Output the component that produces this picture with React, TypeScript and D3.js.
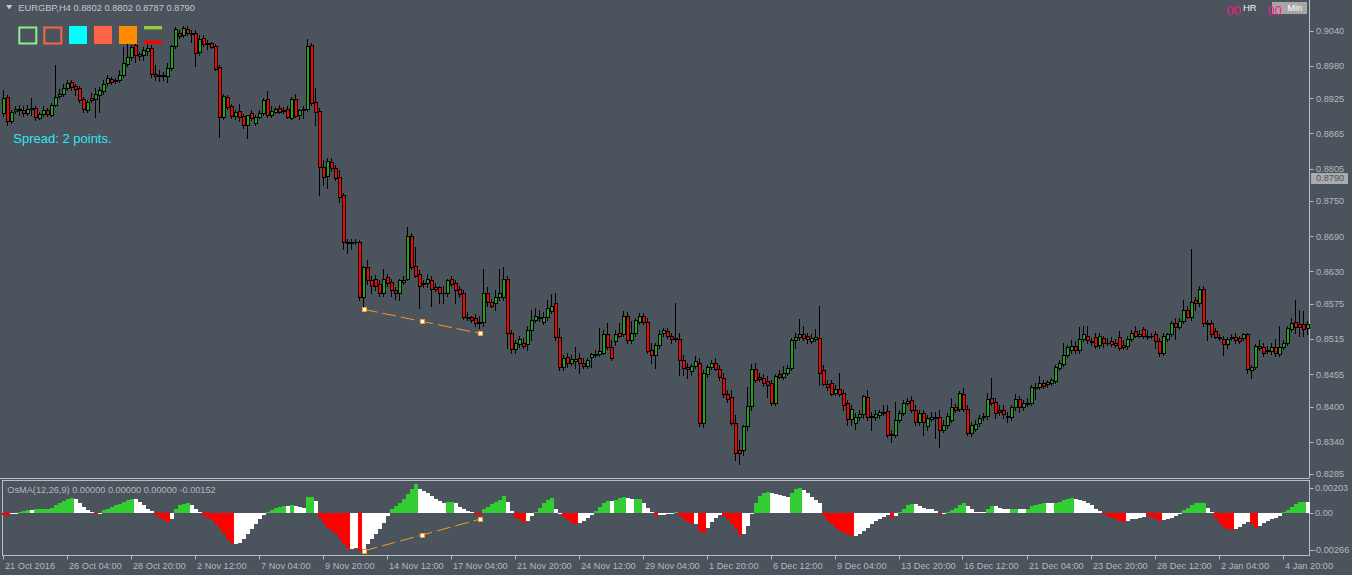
import React, { useEffect } from "react";
import * as d3 from "d3";

// ---------------- DATA (prices in pips, 1 pip = 0.0001) ----------------
const OPEN_PIPS = [
8900,8927,8886,8903,8906,8905,8900,8906,8908,8891,
8898,8905,8896,8913,8929,8932,8942,8952,8946,8942,
8923,8905,8925,8923,8930,8937,8951,8957,8954,8956,
8964,8983,8995,9015,9000,8998,9005,9010,8966,8963,
8964,8963,8976,9014,9036,9032,9043,9036,9036,9003,
9027,9019,9019,9014,8978,8893,8927,8912,8894,8903,
8894,8879,8900,8883,8893,8900,8923,8896,8901,8908,
8903,8906,8891,8923,8896,8905,8906,9015,8918,8903,
8808,8793,8816,8806,8791,8760,8681,8678,8681,8681,
8586,8637,8615,8617,8608,8593,8620,8612,8598,8593,
8612,8618,8691,8640,8625,8608,8610,8615,8603,8603,
8593,8593,8617,8610,8601,8593,8552,8552,8550,8544,
8544,8594,8578,8576,8587,8586,8618,8525,8498,8506,
8508,8506,8530,8547,8552,8544,8552,8562,8576,8518,
8467,8484,8474,8477,8482,8475,8469,8484,8489,8489,
8492,8523,8501,8511,8525,8523,8554,8513,8525,8544,
8554,8544,8496,8487,8504,8525,8528,8520,8516,8515,
8479,8467,8460,8469,8475,8372,8455,8467,8475,8464,
8448,8421,8416,8372,8326,8326,8367,8401,8464,8450,
8448,8443,8440,8406,8455,8450,8457,8465,8513,8518,
8523,8520,8511,8515,8516,8462,8438,8440,8423,8430,
8423,8406,8379,8372,8382,8387,8416,8384,8382,8385,
8391,8392,8353,8351,8377,8389,8406,8411,8394,8374,
8389,8367,8379,8382,8382,8360,8368,8377,8399,8396,
8421,8396,8355,8362,8372,8382,8384,8414,8408,8394,
8394,8384,8382,8399,8413,8399,8404,8406,8433,8433,
8440,8438,8440,8443,8465,8472,8487,8496,8503,8496,
8515,8521,8511,8518,8504,8516,8509,8511,8508,8518,
8504,8503,8515,8528,8521,8532,8521,8520,8523,8511,
8491,8515,8523,8542,8535,8545,8564,8552,8582,8576,
8601,8542,8542,8528,8518,8515,8506,8516,8518,8516,
8516,8523,8462,8467,8503,8501,8496,8494,8501,8489,
8501,8508,8532,8544,8540,8540,8533
];
const HIGH_PIPS = [
8939,8930,8905,8912,8913,8912,8913,8925,8912,8901,
8912,8908,8917,8981,8940,8949,8956,8956,8949,8946,
8927,8922,8934,8942,8944,8956,8964,8961,8959,8973,
9012,9032,9015,9024,9003,9012,9017,9015,8981,8973,
8969,8985,9015,9046,9041,9048,9048,9041,9041,9032,
9032,9024,9020,9017,8981,8932,8930,8915,8905,8915,
8898,8896,8905,8896,8905,8925,8937,8912,8910,8913,
8910,8912,8927,8932,8906,8912,9026,9019,8942,8908,
8820,8823,8823,8811,8803,8763,8686,8686,8686,8683,
8640,8649,8622,8624,8615,8635,8625,8618,8603,8618,
8623,8705,8696,8671,8632,8615,8625,8623,8610,8606,
8606,8618,8623,8615,8606,8598,8561,8555,8557,8555,
8635,8603,8584,8598,8635,8637,8623,8530,8513,8520,
8516,8538,8564,8567,8564,8561,8581,8591,8593,8533,
8487,8492,8487,8501,8491,8482,8482,8491,8496,8533,
8530,8542,8513,8530,8542,8562,8561,8545,8550,8559,
8559,8550,8509,8509,8530,8533,8533,8526,8576,8526,
8487,8475,8472,8486,8482,8462,8470,8479,8482,8470,
8458,8428,8428,8385,8343,8368,8433,8472,8475,8457,
8455,8452,8445,8455,8462,8469,8470,8516,8526,8549,
8538,8526,8523,8532,8571,8470,8445,8445,8436,8457,
8428,8411,8402,8389,8394,8419,8428,8391,8394,8394,
8402,8402,8360,8408,8394,8411,8414,8418,8402,8394,
8394,8385,8391,8391,8394,8377,8389,8414,8404,8426,
8431,8402,8374,8377,8385,8389,8423,8448,8414,8402,
8402,8391,8402,8421,8418,8411,8414,8436,8440,8452,
8445,8445,8448,8470,8479,8509,8504,8513,8511,8535,
8537,8537,8516,8526,8525,8521,8516,8518,8515,8528,
8513,8520,8530,8538,8530,8535,8530,8525,8528,8516,
8525,8526,8545,8550,8550,8581,8572,8668,8587,8605,
8605,8547,8547,8533,8523,8521,8518,8523,8525,8521,
8526,8526,8470,8506,8513,8508,8503,8508,8515,8537,
8513,8538,8550,8581,8564,8562,8545
];
const LOW_PIPS = [
8894,8879,8883,8900,8896,8894,8896,8896,8888,8889,
8894,8894,8894,8912,8925,8929,8939,8939,8930,8918,
8901,8901,8918,8893,8901,8932,8946,8949,8951,8952,
8961,8980,8990,8986,8990,8990,8998,8961,8956,8954,
8956,8952,8973,9010,9027,9029,9032,9020,8980,8998,
9014,9009,9010,8973,8859,8889,8906,8891,8889,8886,
8874,8857,8888,8879,8891,8896,8893,8893,8900,8900,
8900,8891,8889,8893,8889,8891,8903,8913,8879,8760,
8777,8772,8801,8786,8748,8668,8661,8669,8676,8582,
8569,8608,8594,8598,8589,8589,8606,8589,8584,8581,
8608,8615,8635,8620,8567,8603,8603,8571,8596,8576,
8576,8589,8606,8576,8587,8549,8547,8544,8538,8533,
8537,8572,8569,8564,8581,8581,8499,8491,8492,8501,
8499,8496,8513,8544,8545,8540,8547,8559,8513,8462,
8462,8467,8470,8465,8458,8465,8465,8467,8484,8486,
8489,8498,8479,8504,8518,8520,8509,8509,8521,8540,
8540,8492,8474,8465,8499,8521,8516,8509,8511,8453,
8453,8448,8453,8465,8367,8365,8450,8464,8462,8445,
8416,8408,8368,8309,8303,8317,8360,8394,8441,8443,
8435,8416,8402,8402,8448,8447,8453,8462,8499,8513,
8513,8508,8508,8511,8436,8436,8428,8419,8419,8418,
8394,8368,8368,8362,8377,8380,8377,8360,8377,8380,
8385,8348,8340,8348,8374,8385,8402,8391,8368,8368,
8351,8360,8375,8346,8331,8357,8363,8374,8391,8392,
8392,8351,8350,8358,8367,8377,8379,8402,8380,8385,
8380,8374,8377,8394,8391,8394,8401,8402,8413,8430,
8431,8433,8436,8440,8462,8469,8484,8492,8492,8492,
8511,8508,8504,8499,8499,8501,8504,8503,8501,8496,
8498,8498,8511,8518,8518,8516,8515,8516,8499,8486,
8487,8511,8520,8515,8532,8542,8550,8547,8564,8572,
8538,8513,8518,8516,8513,8487,8499,8513,8509,8509,
8513,8458,8448,8464,8496,8486,8491,8489,8486,8486,
8498,8504,8528,8526,8521,8521,8523
];
const CLOSE_PIPS = [
8925,8886,8901,8906,8905,8900,8906,8908,8893,8898,
8905,8898,8913,8927,8932,8942,8951,8944,8940,8922,
8906,8918,8922,8932,8939,8949,8959,8952,8956,8964,
8985,8995,9012,8998,8997,9007,9010,8966,8963,8964,
8963,8976,9014,9043,9031,9044,9036,9035,9002,9026,
9017,9018,9012,8974,8893,8929,8910,8894,8901,8893,
8879,8896,8891,8893,8900,8922,8896,8903,8906,8901,
8905,8893,8923,8894,8905,8906,9014,8917,8901,8808,
8791,8818,8806,8789,8757,8681,8678,8681,8680,8586,
8637,8615,8606,8606,8593,8618,8610,8598,8593,8615,
8615,8691,8637,8623,8606,8610,8617,8601,8600,8593,
8594,8615,8608,8598,8591,8552,8550,8547,8542,8542,
8594,8578,8572,8587,8594,8618,8525,8498,8509,8515,
8503,8530,8547,8554,8551,8552,8567,8572,8518,8467,
8482,8474,8481,8481,8475,8469,8479,8489,8488,8494,
8523,8501,8482,8523,8521,8554,8513,8525,8547,8554,
8544,8494,8487,8504,8523,8530,8520,8515,8515,8479,
8465,8464,8469,8477,8372,8457,8467,8474,8464,8450,
8421,8413,8372,8321,8321,8367,8401,8464,8445,8447,
8440,8436,8406,8452,8450,8458,8465,8513,8518,8523,
8516,8515,8516,8518,8458,8438,8433,8421,8430,8421,
8402,8379,8396,8382,8387,8418,8382,8382,8387,8391,
8389,8351,8351,8377,8389,8406,8409,8394,8374,8389,
8374,8380,8382,8381,8360,8368,8384,8399,8394,8423,
8396,8355,8368,8370,8380,8384,8413,8406,8389,8391,
8387,8383,8399,8413,8399,8406,8406,8433,8432,8440,
8435,8441,8445,8467,8474,8487,8501,8503,8496,8515,
8523,8513,8510,8503,8520,8508,8508,8506,8504,8499,
8501,8515,8525,8521,8523,8520,8518,8521,8511,8491,
8521,8523,8542,8535,8545,8564,8552,8578,8576,8600,
8542,8540,8523,8518,8516,8506,8515,8518,8513,8511,
8523,8464,8467,8503,8499,8492,8494,8501,8491,8501,
8509,8533,8542,8535,8535,8532,8540
];

// OsMA(12,26,9) histogram, in units of 0.00001
const OSMA_E5 = [
-13,-19,-9,-3,6,13,19,16,23,23,
23,25,31,48,64,75,86,96,88,63,
38,19,6,-6,-3,19,27,38,48,58,
69,79,89,86,69,48,27,11,-14,-29,
-44,-56,-39,25,50,58,61,50,25,9,
-19,-29,-44,-71,-102,-133,-169,-188,-194,-186,
-164,-133,-102,-71,-39,-14,6,19,29,38,
44,43,50,44,39,33,100,101,75,-29,
-61,-92,-113,-133,-164,-196,-227,-225,-219,-238,
-227,-196,-164,-133,-102,-61,-19,23,44,64,
86,117,148,179,152,138,123,106,89,75,
64,71,71,64,39,23,13,6,-13,-14,
23,39,54,69,81,106,69,13,-29,-39,
-61,-50,-19,6,33,64,81,96,27,2,
-23,-44,-61,-71,-64,-50,-29,-14,13,39,
64,75,74,79,96,102,96,89,90,90,
64,33,6,-19,-14,-11,-6,-2,6,-19,
-39,-56,-71,-70,-113,-123,-92,-56,-29,-14,
-19,-39,-71,-102,-139,-133,-81,-6,64,106,
127,131,123,117,111,106,102,127,148,158,
144,123,102,81,61,-19,-50,-71,-92,-113,
-123,-133,-144,-143,-133,-113,-92,-71,-50,-36,
-23,-14,-29,-19,6,27,48,54,53,44,
33,27,23,13,-8,-4,8,19,33,48,
61,44,23,6,6,6,23,44,43,33,
27,23,27,27,23,23,27,44,50,56,
61,60,60,64,71,79,86,92,86,81,
75,64,48,27,13,-8,-19,-29,-39,-50,
-56,-50,-39,-36,-29,-23,-19,-25,-36,-50,
-44,-36,-29,-19,-8,19,33,48,61,64,
65,33,6,-29,-61,-86,-102,-108,-102,-86,
-71,-56,-71,-92,-81,-64,-50,-39,-29,-19,
6,19,39,54,69,71,69
];
// histogram colour state per bar: g = up, w = weakening, r = down
const OSMA_STATES =
  "rrwwgggwgg" + "ggggggggww" + "wwwrwggggg" + "gggwwwwwrr" + "rrwggggwww" +
  "rrrrrrrrww" + "wwwwwwgggg" + "gwgwwwggwr" + "rrrrrrrwwr" + "wwwwwwwggg" +
  "ggggwwwwww" + "wggwwwwwrr" + "ggggggwwrr" + "rwwgggggww" + "rrrrwwwwgg" +
  "ggwgggwwgg" + "wwwrwwwwgr" + "rrrwrrwwww" + "rrrrrwwwgg" + "ggwwwwwggg" +
  "wwwwwrrrrr" + "rrrwwwwwww" + "wwrwggggww" + "wwwwrwgggg" + "gwwwwwggww" +
  "wwggwwgggg" + "gwwgggggww" + "wwwwwrrrrr" + "rwwwwwrrrr" + "wwwwwggggg" +
  "gwwrrrrrww" + "wwrrwwwwww" + "ggggggw";

const TIME_LABELS = [
  "21 Oct 2016", "26 Oct 04:00", "28 Oct 20:00", "2 Nov 12:00", "7 Nov 04:00",
  "9 Nov 20:00", "14 Nov 12:00", "17 Nov 04:00", "21 Nov 20:00", "24 Nov 12:00",
  "29 Nov 04:00", "1 Dec 20:00", "6 Dec 12:00", "9 Dec 04:00", "13 Dec 20:00",
  "16 Dec 12:00", "21 Dec 04:00", "23 Dec 20:00", "28 Dec 12:00", "2 Jan 04:00",
  "4 Jan 20:00"
];
const TIME_LABEL_STEP = 16; // bars between time labels

const PRICE_TICKS = [
  "0.9040", "0.8980", "0.8925", "0.8865", "0.8805", "0.8750", "0.8690",
  "0.8630", "0.8575", "0.8515", "0.8455", "0.8400", "0.8340", "0.8285"
];
const PRICE_DOMAIN = [0.827838, 0.909227];
const OSMA_DOMAIN = [-0.00266, 0.00203];
const OSMA_TICKS = ["0.00203", "0.00", "-0.00266"];
const CURRENT_PRICE = "0.8790";

const TITLE = "EURGBP,H4  0.8802 0.8802 0.8787 0.8790";
const OSMA_TITLE = "OsMA(12,26,9) 0.00000 0.00000 0.00000 -0.00152";
const SPREAD_TEXT = "Spread: 2 points.";

// divergence line (bar index, price, oscillator value)
const DIV_BARS = [90, 119];
const DIV_PRICES = [0.85656, 0.85248];
const DIV_OSMA = [-0.00238, -0.000396];

const LEGEND_OUTLINES = ["#90ee90", "#ff6347"];
const LEGEND_FILLS = ["#00ffff", "#ff6347", "#ff8c00"];
const LEGEND_LINES = ["#9acd32", "#ff0000"];

// ---------------- STYLE ----------------
const W = 1352;
const H = 575;
const BG = "#4b535d";
const AXIS = "#b9bec4";
const TEXT = "#b4b9bf";
const FONT = "'Liberation Sans', Arial, sans-serif";
const BULL = "#1fa51f";
const BEAR = "#ff0000";
const OSC_COLORS: Record<string, string> = { g: "#32cd32", w: "#ffffff", r: "#ff0000" };
const DIV_COLOR = "#f59a22";

const MAIN_TOP = 0;
const MAIN_BOTTOM = 478;
const OSC_TOP = 480.5;
const OSC_BOTTOM = 555.5;
const PLOT_RIGHT = 1309.5;

export default function App() {
  useEffect(() => {
    document.body.style.margin = "0";
    document.body.style.background = BG;
  }, []);

  const n = CLOSE_PIPS.length;
  const opens = OPEN_PIPS.map((v) => v / 10000);
  const highs = HIGH_PIPS.map((v) => v / 10000);
  const lows = LOW_PIPS.map((v) => v / 10000);
  const closes = CLOSE_PIPS.map((v) => v / 10000);
  const osma = OSMA_E5.map((v) => v / 100000);

  const x = d3.scaleLinear().domain([0, n - 1]).range([3.5, 3.5 + 4 * (n - 1)]);
  const y = d3.scaleLinear().domain(PRICE_DOMAIN).range([MAIN_BOTTOM, MAIN_TOP]);
  const yo = d3.scaleLinear().domain(OSMA_DOMAIN).range([OSC_BOTTOM, OSC_TOP]);

  const candles = d3.range(n).map((i) => {
    const o = opens[i], c = closes[i];
    const hi = Math.max(highs[i], o, c);
    const lo = Math.min(lows[i], o, c);
    const cx = x(i);
    const top = Math.round(y(Math.max(o, c)));
    const bot = Math.round(y(Math.min(o, c)));
    const bh = Math.max(bot - top, 0) + 1;
    const wt = Math.round(y(hi));
    const wb = Math.round(y(lo));
    return (
      <g key={"c" + i}>
        <rect x={cx - 0.5} y={wt} width={1} height={wb - wt + 1} fill="#000" />
        <rect x={cx - 1.5} y={top} width={4} height={bh} fill="#000" />
        {bh > 2 && (
          <rect x={cx - 0.5} y={top + 1} width={2} height={bh - 2} fill={c >= o ? BULL : BEAR} />
        )}
      </g>
    );
  });

  const zeroY = Math.round(yo(0));
  const hist = d3.range(n).map((i) => {
    const v = osma[i];
    const vy = Math.round(yo(v));
    const top = Math.min(vy, zeroY);
    const h = Math.max(Math.abs(vy - zeroY), 1);
    return (
      <rect key={"h" + i} x={x(i) - 1.5} y={top} width={4} height={h}
        fill={OSC_COLORS[OSMA_STATES[i]] || "#fff"} />
    );
  });

  const divMain = DIV_BARS.map((b, k) => [x(b), y(DIV_PRICES[k])]);
  const divOsc = DIV_BARS.map((b, k) => [x(b), yo(DIV_OSMA[k])]);
  const markers = (pts: number[][], key: string) => {
    const mid = [(pts[0][0] + pts[1][0]) / 2, (pts[0][1] + pts[1][1]) / 2];
    return [pts[0], mid, pts[1]].map((p, k) => (
      <rect key={key + k} x={Math.round(p[0]) - 2} y={Math.round(p[1]) - 2} width={4} height={4}
        fill="#ffffff" stroke={DIV_COLOR} strokeWidth={1} />
    ));
  };

  const oscLabelY = (v: number) => {
    const yy = yo(v);
    return Math.min(Math.max(yy, OSC_TOP + 7), OSC_BOTTOM - 6);
  };

  const curY = y(parseFloat(CURRENT_PRICE));

  return (
    <svg width={W} height={H} style={{ position: "absolute", left: 0, top: 0, display: "block" }}
      fontFamily={FONT}>
      <rect x={0} y={0} width={W} height={H} fill={BG} />

      {/* panel borders */}
      <line x1={PLOT_RIGHT} x2={PLOT_RIGHT} y1={0} y2={MAIN_BOTTOM} stroke={AXIS} strokeWidth={1} />
      <line x1={0} x2={PLOT_RIGHT} y1={MAIN_BOTTOM + 0.5} y2={MAIN_BOTTOM + 0.5} stroke={AXIS} strokeWidth={1} />
      <rect x={2.5} y={OSC_TOP} width={PLOT_RIGHT - 2.5} height={OSC_BOTTOM - OSC_TOP}
        fill="none" stroke={AXIS} strokeWidth={1} />

      <g shapeRendering="crispEdges">{candles}</g>
      <g shapeRendering="crispEdges">{hist}</g>

      {/* divergence lines */}
      <line x1={divMain[0][0]} y1={divMain[0][1]} x2={divMain[1][0]} y2={divMain[1][1]}
        stroke={DIV_COLOR} strokeWidth={1} strokeDasharray="14,5" />
      <line x1={divOsc[0][0]} y1={divOsc[0][1]} x2={divOsc[1][0]} y2={divOsc[1][1]}
        stroke={DIV_COLOR} strokeWidth={1} strokeDasharray="14,5" />
      <g shapeRendering="crispEdges">
        {markers(divMain, "dm")}
        {markers(divOsc, "do")}
      </g>

      {/* price axis */}
      {PRICE_TICKS.map((t) => {
        const yy = y(parseFloat(t));
        return (
          <g key={"p" + t}>
            <line x1={PLOT_RIGHT} x2={PLOT_RIGHT + 4} y1={Math.round(yy) + 0.5} y2={Math.round(yy) + 0.5} stroke={AXIS} />
            <text x={1316} y={yy + 3.3} fontSize={9.2} fill={TEXT}>{t}</text>
          </g>
        );
      })}
      <rect x={1311} y={Math.round(curY) - 5} width={37} height={11} fill="#a9abad" />
      <text x={1316} y={curY + 3.3} fontSize={9.2} fill="#4e545b">{CURRENT_PRICE}</text>

      {/* oscillator axis */}
      {OSMA_TICKS.map((t) => {
        const v = parseFloat(t);
        const ly = oscLabelY(v);
        return (
          <g key={"o" + t}>
            <line x1={PLOT_RIGHT} x2={PLOT_RIGHT + 4} y1={Math.round(ly) + 0.5} y2={Math.round(ly) + 0.5} stroke={AXIS} />
            <text x={v < 0 ? 1313 : 1315} y={ly + 3.3} fontSize={9.2} fill={TEXT}>{t}</text>
          </g>
        );
      })}

      {/* time axis */}
      {TIME_LABELS.map((t, k) => {
        const xx = Math.round(x(k * TIME_LABEL_STEP)) - 0.5;
        return (
          <g key={"t" + k}>
            <line x1={xx} x2={xx} y1={OSC_BOTTOM} y2={OSC_BOTTOM + 4} stroke={AXIS} />
            <text x={xx + 1.5} y={569} fontSize={9.2} fill={TEXT}>{t}</text>
          </g>
        );
      })}

      {/* title */}
      <path d="M6,5 L12.5,5 L9.25,9.5 Z" fill="#c4c8cc" />
      <text x={18.3} y={11} fontSize={9.3} fill="#c4c8cc">{TITLE}</text>
      <text x={7.3} y={493.2} fontSize={9.2} fill={TEXT}>{OSMA_TITLE}</text>

      {/* legend boxes */}
      {LEGEND_OUTLINES.map((c, k) => (
        <rect key={"lo" + k} x={19.3 + k * 25} y={27.5} width={17} height={16}
          fill="none" stroke={c} strokeWidth={2} />
      ))}
      {LEGEND_FILLS.map((c, k) => (
        <rect key={"lf" + k} x={69 + k * 25} y={26} width={18} height={18} fill={c} />
      ))}
      {LEGEND_LINES.map((c, k) => (
        <rect key={"ll" + k} x={144} y={26 + k * 14.7} width={18} height={3.4} fill={c} />
      ))}

      <text x={13.3} y={142.5} fontSize={13} fill="#2fe6f2">{SPREAD_TEXT}</text>

      {/* clock widget */}
      <text x={1226.5} y={15} fontSize={13} fill="#ff1493">00</text>
      <text x={1243} y={11} fontSize={9.5} fill="#eef2f6">HR</text>
      <rect x={1272} y={2} width={35} height={12} fill="#a6a6a6" />
      <text x={1267.5} y={15} fontSize={13} fill="#ff1493">00</text>
      <text x={1287.5} y={11} fontSize={9} fill="#ffffff">Min</text>
    </svg>
  );
}
